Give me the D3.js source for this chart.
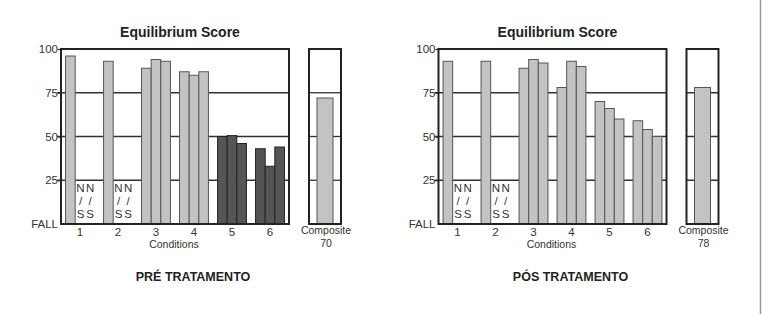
<!DOCTYPE html>
<html>
<head>
<meta charset="utf-8">
<script src="https://cdn.jsdelivr.net/npm/d3@7"></script>
<style>
  html, body { margin: 0; padding: 0; background: #fff; }
  svg { display: block; font-family: "Liberation Sans", Arial, sans-serif; }
</style>
</head>
<body>
<div id="chart"></div>
<script>
const conditions = ["1", "2", "3", "4", "5", "6"];
const yTicks = [0, 25, 50, 75, 100];
const yTickLabels = ["FALL", "25", "50", "75", "100"];

// null = N/S (not scored)
const preScores = [
  [96, null, null],
  [93, null, null],
  [89, 94, 93],
  [87, 85, 87],
  [50, 50.5, 46],
  [43, 33, 44],
];
const posScores = [
  [93, null, null],
  [93, null, null],
  [89, 94, 92],
  [78, 93, 90],
  [70, 66, 60],
  [59, 54, 50],
];
const preComposite = 72;
const posComposite = 78;
const preCompositeLabel = "70";
const posCompositeLabel = "78";
const preDarkConditions = ["5", "6"];
const posDarkConditions = [];

const width = 763;
const height = 314;

const svg = d3
  .select("#chart")
  .append("svg")
  .attr("width", width)
  .attr("height", height);

svg.append("rect").attr("width", width).attr("height", height).attr("fill", "#fff");

// right edge rule
svg
  .append("line")
  .attr("x1", 760.5)
  .attr("x2", 760.5)
  .attr("y1", 0)
  .attr("y2", height)
  .attr("stroke", "#9a9a9a")
  .attr("stroke-width", 1.5);

const box = { left: 61, right: 289, top: 49, bottom: 224 };
const compBox = { left: 309, right: 341 };

const y = d3.scaleLinear().domain([0, 100]).range([box.bottom, box.top]);

function drawPanel(offsetX, scores, composite, compositeLabel, caption, dark) {
  const g = svg.append("g").attr("transform", `translate(${offsetX}, 0)`);

  const x0 = d3
    .scaleBand()
    .domain(conditions)
    .range([box.left, box.right])
    .paddingInner(0.24)
    .paddingOuter(0.12);

  const x1 = d3.scaleBand().domain([0, 1, 2]).range([0, x0.bandwidth()]);

  const xc = d3
    .scaleBand()
    .domain(["Composite"])
    .range([compBox.left, compBox.right])
    .paddingInner(0.5)
    .paddingOuter(0.25);

  g.append("text")
    .attr("x", (box.left + box.right) / 2 + 5)
    .attr("y", 36.5)
    .attr("text-anchor", "middle")
    .attr("font-size", 14)
    .attr("font-weight", "bold")
    .attr("fill", "#222")
    .text("Equilibrium Score");

  // gridlines
  const grid = yTicks.filter((d) => d > 0 && d < 100);
  g.selectAll("line.grid")
    .data(grid)
    .enter()
    .append("line")
    .attr("x1", box.left - 4)
    .attr("x2", box.right)
    .attr("y1", (d) => y(d))
    .attr("y2", (d) => y(d))
    .attr("stroke", "#333")
    .attr("stroke-width", 1.3);

  g.selectAll("line.cgrid")
    .data(grid)
    .enter()
    .append("line")
    .attr("x1", compBox.left)
    .attr("x2", compBox.right)
    .attr("y1", (d) => y(d))
    .attr("y2", (d) => y(d))
    .attr("stroke", "#333")
    .attr("stroke-width", 1.3);

  // y axis labels
  g.append("g")
    .attr("transform", `translate(${box.left}, 0)`)
    .call(
      d3.axisLeft(y)
        .tickValues(yTicks)
        .tickSize(3)
        .tickPadding(0)
        .tickFormat((d, i) => yTickLabels[i])
    )
    .call((a) => a.select(".domain").remove())
    .call((a) => a.selectAll(".tick line").attr("stroke", "#333").attr("stroke-width", 1.3))
    .call((a) => a.selectAll(".tick").filter((d) => d === 0).select("line").remove())
    .call((a) =>
      a.selectAll(".tick text")
        .attr("fill", "#333")
        .attr("font-size", 11.5)
        .attr("font-family", "Liberation Sans, Arial, sans-serif")
    );

  // bars
  const groups = g
    .selectAll("g.cond")
    .data(conditions)
    .enter()
    .append("g")
    .attr("transform", (c) => `translate(${x0(c)}, 0)`);

  groups.each(function (c, ci) {
    const isDark = dark.includes(c);
    const cell = d3.select(this);
    scores[ci].forEach((v, si) => {
      if (v === null) {
        const t = cell
          .append("text")
          .attr("text-anchor", "middle")
          .attr("font-size", 11.5)
          .attr("fill", "#333");
        ["N", "/", "S"].forEach((ch, k) => {
          t.append("tspan")
            .attr("x", x1(si) + x1.bandwidth() / 2 + 0.5)
            .attr("y", y(18.5) + k * 13)
            .text(ch);
        });
        return;
      }
      cell
        .append("rect")
        .attr("x", x1(si))
        .attr("y", y(v))
        .attr("width", x1.bandwidth())
        .attr("height", y(0) - y(v))
        .attr("fill", isDark ? "#555" : "#c3c3c3")
        .attr("stroke", isDark ? "#222" : "#555")
        .attr("stroke-width", 1);
    });
  });

  g.append("rect")
    .attr("x", xc("Composite"))
    .attr("y", y(composite))
    .attr("width", xc.bandwidth())
    .attr("height", y(0) - y(composite))
    .attr("fill", "#c3c3c3")
    .attr("stroke", "#555")
    .attr("stroke-width", 1);

  // frames
  g.append("rect")
    .attr("x", box.left)
    .attr("y", box.top)
    .attr("width", box.right - box.left)
    .attr("height", box.bottom - box.top)
    .attr("fill", "none")
    .attr("stroke", "#222")
    .attr("stroke-width", 2);

  g.append("rect")
    .attr("x", compBox.left)
    .attr("y", box.top)
    .attr("width", compBox.right - compBox.left)
    .attr("height", box.bottom - box.top)
    .attr("fill", "none")
    .attr("stroke", "#222")
    .attr("stroke-width", 2);

  // x axis
  g.append("g")
    .attr("transform", `translate(0, ${box.bottom})`)
    .call(d3.axisBottom(x0).tickSize(0).tickPadding(4))
    .call((a) => a.select(".domain").remove())
    .call((a) =>
      a.selectAll("text")
        .attr("fill", "#333")
        .attr("font-size", 11.5)
        .attr("font-family", "Liberation Sans, Arial, sans-serif")
    );

  g.append("text")
    .attr("x", (box.left + box.right) / 2 - 1)
    .attr("y", 247.5)
    .attr("text-anchor", "middle")
    .attr("font-size", 10.5)
    .attr("fill", "#333")
    .text("Conditions");

  const cx = (compBox.left + compBox.right) / 2 + 1;
  g.append("text")
    .attr("x", cx)
    .attr("y", 234)
    .attr("text-anchor", "middle")
    .attr("font-size", 10.5)
    .attr("fill", "#333")
    .text("Composite");
  g.append("text")
    .attr("x", cx)
    .attr("y", 246.5)
    .attr("text-anchor", "middle")
    .attr("font-size", 10.5)
    .attr("fill", "#333")
    .text(compositeLabel);

  g.append("text")
    .attr("x", (box.left + box.right) / 2 + 18)
    .attr("y", 280.5)
    .attr("text-anchor", "middle")
    .attr("font-size", 12.5)
    .attr("font-weight", "bold")
    .attr("fill", "#222")
    .text(caption);
}

drawPanel(0, preScores, preComposite, preCompositeLabel, "PRÉ TRATAMENTO", preDarkConditions);
drawPanel(377.5, posScores, posComposite, posCompositeLabel, "PÓS TRATAMENTO", posDarkConditions);
</script>
</body>
</html>
